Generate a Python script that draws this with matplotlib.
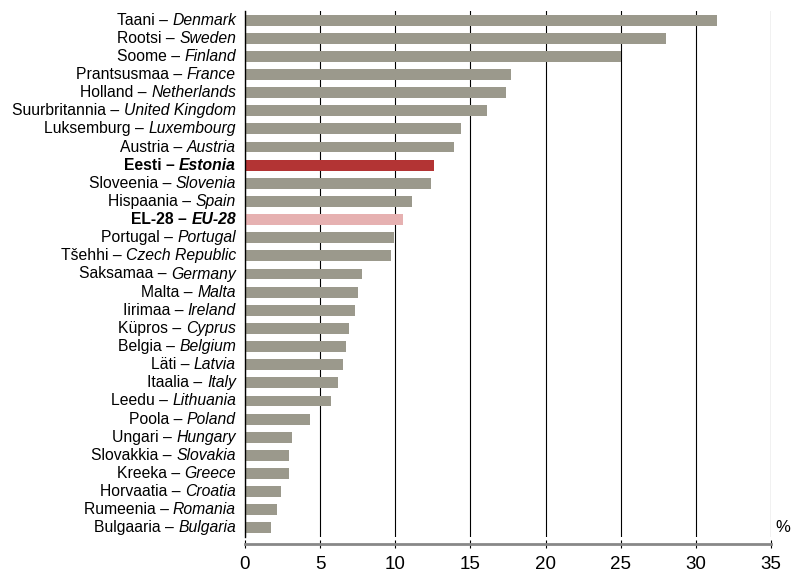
import matplotlib.pyplot as plt
from matplotlib.transforms import offset_copy

plt.rcParams['font.family'] = ['Liberation Sans', 'DejaVu Sans']

# Data: country names (Estonian / English) and shares, %
names_et = ["Taani", "Rootsi", "Soome", "Prantsusmaa", "Holland", "Suurbritannia",
            "Luksemburg", "Austria", "Eesti", "Sloveenia", "Hispaania", "EL-28",
            "Portugal", "Tšehhi", "Saksamaa", "Malta", "Iirimaa", "Küpros", "Belgia",
            "Läti", "Itaalia", "Leedu", "Poola", "Ungari", "Slovakkia", "Kreeka",
            "Horvaatia", "Rumeenia", "Bulgaaria"]
names_en = ["Denmark", "Sweden", "Finland", "France", "Netherlands", "United Kingdom",
            "Luxembourg", "Austria", "Estonia", "Slovenia", "Spain", "EU-28",
            "Portugal", "Czech Republic", "Germany", "Malta", "Ireland", "Cyprus", "Belgium",
            "Latvia", "Italy", "Lithuania", "Poland", "Hungary", "Slovakia", "Greece",
            "Croatia", "Romania", "Bulgaria"]
values = [31.4, 28.0, 25.0, 17.7, 17.4, 16.1,
          14.4, 13.9, 12.6, 12.4, 11.1, 10.5,
          9.9, 9.7, 7.8, 7.5, 7.3, 6.9, 6.7,
          6.5, 6.2, 5.7, 4.3, 3.1, 2.9, 2.9,
          2.4, 2.1, 1.7]
highlight = {"Eesti": "#b33434", "EL-28": "#e6b1b1"}

fig = plt.figure(figsize=(7.91, 5.74), dpi=100)
ax = fig.add_axes([245 / 791, 37 / 574, 526 / 791, 526 / 574])

colors = [highlight.get(n, "#9b998c") for n in names_et]
ypos = list(range(len(values)))
ax.barh(ypos, values, height=0.6, color=colors, zorder=2)

ax.set_xlim(0, 35)
ax.set_ylim(len(values) - 0.5, -0.5)
ax.set_xticks(range(0, 36, 5))
ax.set_yticks([])
ax.grid(axis='x', color='black', lw=0.8, zorder=0)
for gl in ax.get_xgridlines()[-1:]:
    gl.set_color('#666666')
    gl.set_linewidth(1.5)
    gl.set_clip_on(False)

for s in ['top', 'right']:
    ax.spines[s].set_visible(False)
ax.spines['left'].set_color('black')
ax.spines['left'].set_linewidth(1)
ax.spines['bottom'].set_position(('outward', 5))
ax.spines['bottom'].set_color('#888888')
ax.spines['bottom'].set_linewidth(2)
ax.tick_params(axis='x', direction='inout', length=6, width=0.8, color='black',
               labelsize=13.5, pad=6)

ax.text(35.3, len(values) - 1, '%', ha='left', va='center', fontsize=12, clip_on=False)

# category labels: Estonian regular, English italic
fs = 11.3
pad = 6.5
fig.canvas.draw()
r = fig.canvas.get_renderer()
base = offset_copy(ax.get_yaxis_transform(), fig, x=-pad, units='points')
for i, (et, en) in enumerate(zip(names_et, names_en)):
    w = 'bold' if et in highlight else 'normal'
    t2 = ax.text(0, i, en, transform=base, ha='right', va='center', style='italic',
                 weight=w, fontsize=fs, clip_on=False)
    wpt = t2.get_window_extent(r).width * 72 / fig.dpi
    tr = offset_copy(ax.get_yaxis_transform(), fig, x=-(pad + wpt + 0.28 * fs), units='points')
    ax.text(0, i, et + ' \u2013', transform=tr, ha='right', va='center',
            weight=w, fontsize=fs, clip_on=False)

fig.savefig('out.png', dpi=100)
